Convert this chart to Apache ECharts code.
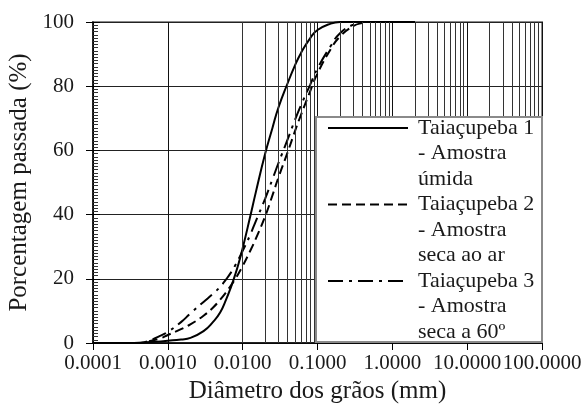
<!DOCTYPE html>
<html>
<head>
<meta charset="utf-8">
<script src="https://cdn.jsdelivr.net/npm/echarts@6/dist/echarts.min.js"></script>
<style>
  html, body { margin: 0; padding: 0; background: #fff; }
  #chart { width: 584px; height: 406px; }
</style>
</head>
<body>
<div id="chart"></div>
<script>
// curva granulometrica - diametro (mm) x porcentagem passada (%)
var seriesNames = [
  'Taiaçupeba 1\n- Amostra\númida',
  'Taiaçupeba 2\n- Amostra\nseca ao ar',
  'Taiaçupeba 3\n- Amostra\nseca a 60º'
];

var diam1 = [0.0001, 0.0003, 0.0005, 0.0007, 0.001, 0.0015, 0.002, 0.003, 0.004, 0.005, 0.006, 0.007, 0.008, 0.009, 0.01, 0.0125, 0.015, 0.02, 0.025, 0.03, 0.04, 0.05, 0.06, 0.08, 0.1, 0.15, 0.2, 0.5, 1, 2];
var pass1 = [0, 0, 0.2, 0.4, 0.7, 1.1, 1.6, 3.7, 6.5, 9.5, 13.5, 17.5, 21.5, 25.5, 29.5, 39, 47, 59, 67, 73.3, 81, 86.5, 90.3, 95, 97.5, 99.5, 100, 100, 100, 100];

var diam2 = [0.0001, 0.0004, 0.0005, 0.0008, 0.001, 0.0015, 0.002, 0.003, 0.004, 0.005, 0.006, 0.007, 0.008, 0.01, 0.0125, 0.015, 0.02, 0.025, 0.03, 0.04, 0.05, 0.06, 0.08, 0.1, 0.15, 0.2, 0.3, 0.4, 0.5, 1, 2];
var pass2 = [0, 0, 0.3, 1.5, 2.5, 4.3, 5.8, 8.5, 11, 13.5, 15.8, 18, 20, 24, 28.5, 32.5, 39.5, 46, 51.5, 59.5, 66, 71, 78.5, 84, 91.5, 95.5, 98.7, 99.7, 100, 100, 100];

var diam3 = [0.0001, 0.0004, 0.0005, 0.0008, 0.001, 0.0015, 0.002, 0.003, 0.004, 0.005, 0.006, 0.007, 0.008, 0.01, 0.0125, 0.015, 0.02, 0.025, 0.03, 0.04, 0.05, 0.06, 0.08, 0.1, 0.15, 0.2, 0.3, 0.4, 1, 2];
var pass3 = [0, 0, 0.3, 2.3, 3.5, 6.5, 9.2, 12.8, 15.3, 17.5, 19.8, 22, 24.3, 28.7, 33.5, 38, 45, 51, 56, 63.5, 69.5, 74, 80.5, 85.5, 92.5, 96.5, 99.2, 100, 100, 100];

var xTicks = [0.0001, 0.001, 0.01, 0.1, 1, 10, 100];
var yTicks = [0, 20, 40, 60, 80, 100];

function pairs(xs, ys) {
  return xs.map(function (x, i) { return [x, ys[i]]; });
}

// linhas de grade secundarias do papel log (2..9 de cada decada)
var minorGrid = [];
for (var k = 0; k < xTicks.length - 1; k++) {
  for (var m = 2; m <= 9; m++) {
    minorGrid.push({ xAxis: xTicks[k] * m });
  }
}

var serif = 'Liberation Serif';
var ink = '#1a1a1a';

var myChart = echarts.init(document.getElementById('chart'));
var option = {
  animation: false,
  textStyle: { fontFamily: serif, color: ink },
  grid: {
    left: 93, right: 42, top: 22, bottom: 63,
    outerBoundsMode: 'none',
    show: true, borderColor: '#8a8a8a', borderWidth: 2
  },
  xAxis: {
    type: 'log',
    logBase: 10,
    min: xTicks[0],
    max: xTicks[xTicks.length - 1],
    name: 'Diâmetro dos grãos (mm)',
    nameLocation: 'middle',
    nameGap: 34,
    nameTextStyle: { fontFamily: serif, fontSize: 25, color: ink },
    axisLine: { lineStyle: { color: '#000', width: 1.5 } },
    axisTick: { show: true, length: 7, lineStyle: { color: '#000' } },
    axisLabel: {
      fontFamily: serif, fontSize: 21, color: ink, margin: 10,
      formatter: function (v) { return Number(v).toFixed(4); }
    },
    splitLine: { show: true, lineStyle: { color: '#111', width: 1 } }
  },
  yAxis: [{
    type: 'value',
    min: yTicks[0],
    max: yTicks[yTicks.length - 1],
    interval: 20,
    name: 'Porcentagem passada (%)',
    nameLocation: 'middle',
    nameGap: 53,
    nameTextStyle: { fontFamily: serif, fontSize: 25, color: ink },
    axisLine: { show: true, lineStyle: { color: '#000', width: 1.5 } },
    axisTick: { show: true, length: 7, lineStyle: { color: '#000' } },
    axisLabel: { fontFamily: serif, fontSize: 21, color: ink, margin: 19 },
    splitLine: { show: true, lineStyle: { color: '#222', width: 1 } }
  }, {
    // so os tracinhos menores para dentro
    type: 'value',
    min: yTicks[0],
    max: yTicks[yTicks.length - 1],
    interval: 20,
    position: 'left',
    axisLine: { show: false },
    axisLabel: { show: false },
    splitLine: { show: false },
    axisTick: { show: true, inside: true, length: 7, lineStyle: { color: '#000' } },
    minorTick: { show: true, splitNumber: 20, length: 5, lineStyle: { color: '#333' } }
  }],
  legend: {
    orient: 'vertical',
    left: 327,
    top: 64.25,
    padding: 0,
    z: 10,
    itemWidth: 80,
    itemHeight: 14,
    itemGap: -51,
    data: seriesNames,
    // duas linhas vazias em cima: a primeira linha fica na altura do traço
    formatter: function (name) { return '\n\n' + name; },
    itemStyle: { opacity: 0, borderWidth: 0 },
    textStyle: {
      fontFamily: serif, fontSize: 22, color: ink,
      lineHeight: 25.5, padding: [0, 0, 0, 5]
    }
  },
  graphic: [{
    type: 'rect',
    z: 8,
    shape: { x: 316, y: 117, width: 226, height: 225 },
    style: { fill: '#fff', stroke: '#8a8a8a', lineWidth: 2 }
  }],
  series: [
    {
      name: seriesNames[0],
      type: 'line',
      data: pairs(diam1, pass1),
      smooth: 0.5,
      symbol: 'none',
      lineStyle: { color: '#000', width: 2, type: 'solid' },
      itemStyle: { color: '#000' },
      markLine: {
        silent: true,
        symbol: ['none', 'none'],
        label: { show: false },
        lineStyle: { color: '#333', width: 1, type: 'solid' },
        emphasis: { disabled: true },
        data: minorGrid
      }
    },
    {
      name: seriesNames[1],
      type: 'line',
      data: pairs(diam2, pass2),
      smooth: 0.5,
      symbol: 'none',
      lineStyle: { color: '#000', width: 2, type: [9, 5] },
      itemStyle: { color: '#000' }
    },
    {
      name: seriesNames[2],
      type: 'line',
      data: pairs(diam3, pass3),
      smooth: 0.5,
      symbol: 'none',
      lineStyle: { color: '#000', width: 2, type: [15, 6, 3, 6] },
      itemStyle: { color: '#000' }
    }
  ]
};
myChart.setOption(option);
</script>
</body>
</html>
